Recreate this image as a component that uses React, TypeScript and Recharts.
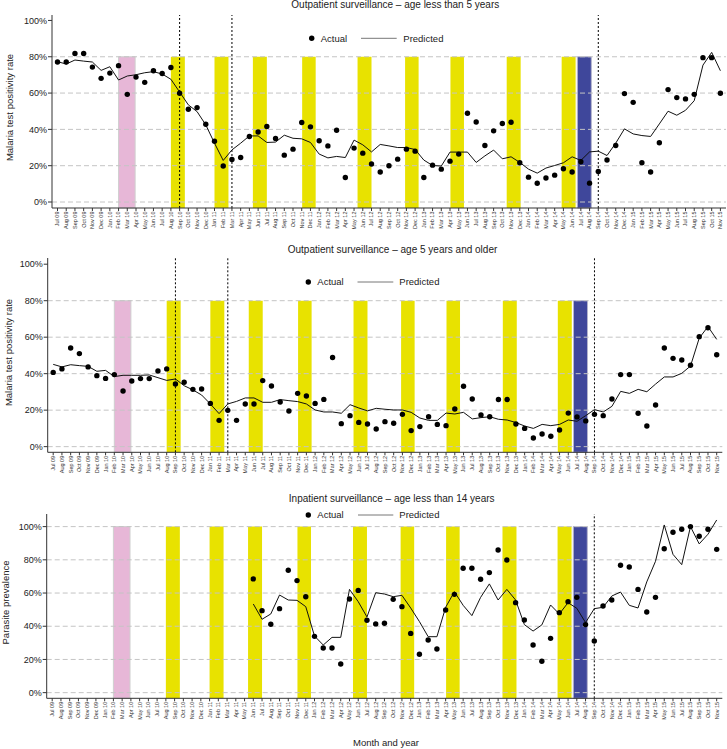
import React from 'react';
import { ComposedChart, Line, XAxis, YAxis, ReferenceArea, ReferenceLine } from 'recharts';

const months = [
  'Jul 09', 'Aug 09', 'Sep 09', 'Oct 09', 'Nov 09', 'Dec 09',
  'Jan 10', 'Feb 10', 'Mar 10', 'Apr 10', 'May 10', 'Jun 10', 'Jul 10', 'Aug 10', 'Sep 10', 'Oct 10', 'Nov 10', 'Dec 10',
  'Jan 11', 'Feb 11', 'Mar 11', 'Apr 11', 'May 11', 'Jun 11', 'Jul 11', 'Aug 11', 'Sep 11', 'Oct 11', 'Nov 11', 'Dec 11',
  'Jan 12', 'Feb 12', 'Mar 12', 'Apr 12', 'May 12', 'Jun 12', 'Jul 12', 'Aug 12', 'Sep 12', 'Oct 12', 'Nov 12', 'Dec 12',
  'Jan 13', 'Feb 13', 'Mar 13', 'Apr 13', 'May 13', 'Jun 13', 'Jul 13', 'Aug 13', 'Sep 13', 'Oct 13', 'Nov 13', 'Dec 13',
  'Jan 14', 'Feb 14', 'Mar 14', 'Apr 14', 'May 14', 'Jun 14', 'Jul 14', 'Aug 14', 'Sep 14', 'Oct 14', 'Nov 14', 'Dec 14',
  'Jan 15', 'Feb 15', 'Mar 15', 'Apr 15', 'May 15', 'Jun 15', 'Jul 15', 'Aug 15', 'Sep 15', 'Oct 15', 'Nov 15',
];

// outpatient < 5 years
const under5Actual = [
  77.1, 77.1, 81.8, 81.8, 74.3, 68.1, 71.0, 75.1, 59.3, 68.8, 65.9, 72.3, 70.8, 74.1, 59.9, 51.1, 52.0, 42.8,
  33.5, 19.8, 23.4, 24.5, 36.1, 38.6, 41.6, 35.0, 25.8, 29.1, 43.8, 41.4,
  33.7, 30.9, 39.5, 13.5, 29.7, 26.9, 20.9, 16.5, 20.0, 23.6, 29.1, 28.0,
  13.5, 20.3, 18.1, 22.5, 26.4, 48.9, 44.1, 31.1, 39.2, 43.2, 43.9, 21.6,
  13.7, 10.3, 13.2, 14.8, 18.3, 16.5, 22.2, 10.4, 16.8, 23.1, 31.1, 59.7,
  54.9, 21.6, 16.5, 32.6, 61.9, 57.5, 56.8, 59.3, 79.5, 79.5, 59.9,
];
const under5Predicted = [
  77.3, 76.0, 78.2, 77.6, 77.1, 72.5, 74.5, 67.2, 69.4, 70.1, 71.2, 71.8, 70.5, 67.6, 60.6, 53.5, 49.8, 42.5,
  32.4, 22.9, 28.7, 32.4, 36.4, 36.4, 32.8, 33.0, 36.8, 35.1, 34.8, 32.8,
  26.4, 24.3, 25.1, 24.5, 34.1, 31.5, 27.6, 31.7, 30.9, 30.0, 30.0, 28.9,
  23.1, 20.1, 19.8, 27.5, 27.5, 27.5, 21.8, 25.4, 28.6, 23.8, 24.9, 21.8,
  18.1, 15.9, 18.7, 20.1, 21.6, 24.9, 22.9, 27.6, 28.0, 25.6, 32.4, 40.3,
  37.5, 36.6, 36.1, 43.0, 50.0, 47.8, 50.5, 55.8, 75.4, 82.4, 72.3,
];

// outpatient >= 5 years
const over5Actual = [
  40.7, 42.6, 54.1, 51.0, 43.7, 38.9, 37.4, 39.5, 30.5, 36.0, 37.3, 37.3, 41.5, 42.6, 34.3, 35.3, 31.4, 31.6,
  23.7, 14.4, 19.9, 14.4, 23.4, 23.4, 36.2, 33.2, 24.5, 19.5, 29.2, 27.8,
  23.7, 25.9, 48.9, 12.6, 17.0, 13.3, 12.4, 9.7, 13.7, 12.8, 17.7, 8.8,
  11.0, 16.4, 12.2, 11.5, 20.6, 33.1, 26.1, 17.4, 16.4, 25.8, 25.8, 12.4,
  10.0, 4.7, 6.9, 5.7, 9.1, 18.4, 16.3, 14.1, 17.7, 17.0, 26.1, 39.5,
  39.5, 18.3, 11.3, 22.8, 54.1, 48.4, 47.5, 44.6, 60.3, 65.2, 50.4,
];
const over5Predicted = [
  45.1, 43.7, 44.9, 44.4, 44.0, 41.3, 41.8, 38.4, 39.1, 39.1, 39.1, 39.3, 37.8, 36.3, 37.1, 33.4, 31.1, 28.3,
  23.4, 18.1, 23.4, 24.8, 26.7, 26.7, 24.3, 24.3, 25.8, 25.2, 24.7, 23.4,
  20.1, 19.0, 19.0, 18.3, 23.0, 21.2, 19.6, 21.0, 20.5, 20.1, 20.1, 18.8,
  15.7, 14.4, 14.4, 18.4, 17.9, 18.8, 15.2, 15.9, 16.4, 15.0, 14.6, 13.2,
  11.3, 10.0, 12.2, 11.5, 12.2, 14.6, 13.9, 17.0, 20.3, 19.0, 22.1, 30.3,
  29.2, 31.4, 30.1, 34.3, 38.2, 38.2, 40.2, 44.2, 59.5, 65.8, 58.8,
];

// inpatient < 14 years (starts Jun 11)
const inpatientActual = [
  null, null, null, null, null, null, null, null, null, null, null, null, null, null, null, null, null, null,
  null, null, null, null, null, 68.5, 49.4, 41.2, 50.6, 73.7, 67.5, 57.8,
  33.9, 26.9, 26.9, 17.3, 56.4, 61.6, 43.6, 41.4, 41.8, 56.2, 51.8, 35.7,
  23.1, 31.7, 26.3, 49.8, 59.2, 74.9, 74.9, 68.3, 72.3, 85.9, 79.9, 54.2,
  43.8, 28.7, 18.9, 32.7, 48.2, 54.8, 57.4, 41.0, 31.1, 52.2, 55.8, 76.7,
  75.7, 62.2, 48.6, 57.4, 86.7, 96.6, 98.4, 100.0, 94.2, 98.4, 86.3,
];
const inpatientPredicted = [
  null, null, null, null, null, null, null, null, null, null, null, null, null, null, null, null, null, null,
  null, null, null, null, null, 53.4, 44.2, 47.4, 58.8, 55.8, 55.6, 51.8,
  34.1, 28.7, 33.3, 33.3, 62.2, 54.8, 45.6, 60.2, 59.4, 57.8, 58.6, 51.0,
  42.8, 33.7, 33.7, 51.4, 60.8, 52.6, 46.4, 57.4, 65.5, 55.8, 62.2, 55.8,
  41.0, 37.1, 40.8, 52.8, 47.4, 54.2, 50.8, 42.2, 50.6, 51.4, 58.2, 60.6,
  52.6, 51.0, 66.7, 79.1, 101.0, 83.3, 77.1, 100.0, 89.6, 95.4, 104.0,
];

// shaded periods, in month index units
const pinkBand = [7.0, 8.9];
const yellowBands = [
  [13.0, 14.6], [18.0, 19.6], [22.4, 24.0], [28.05, 29.6], [34.4, 36.0],
  [39.85, 41.4], [45.05, 46.6], [51.5, 53.1], [57.8, 59.4],
];
const blueBand = [59.6, 61.2];

const FONT = '"Liberation Sans", Arial, Helvetica, sans-serif';
const TEXT = '#222';
const monthTicks = months.map((_, i) => i);

const MonthTick = (props: any) => {
  const { x, y, payload } = props;
  return (
    <text
      x={x}
      y={y}
      transform={`rotate(-90 ${x} ${y})`}
      textAnchor="end"
      dy="0.35em"
      fontSize={5.5}
      fill="#333"
    >
      {months[payload.value]}
    </text>
  );
};

type PanelProps = {
  top: number;
  height: number;
  marginTop: number;
  marginRight: number;
  yWidth: number;
  xHeight: number;
  domain: [number, number];
  bandTop: number;
  grid: number[];
  cutoffs: number[];
  actual: (number | null)[];
  predicted: (number | null)[];
};

const Panel = (p: PanelProps) => {
  const data = months.map((m, i) => ({ i, month: m, actual: p.actual[i], predicted: p.predicted[i] }));
  const lo = p.domain[0];
  return (
    <div style={{ position: 'absolute', left: 0, top: p.top }}>
      <ComposedChart
        width={727}
        height={p.height}
        data={data}
        margin={{ top: p.marginTop, right: p.marginRight, left: 0, bottom: 0 }}
      >
        <XAxis
          type="number"
          dataKey="i"
          domain={[0, 76]}
          ticks={monthTicks}
          interval={0}
          padding={{ left: 5.5, right: 5.6 }}
          height={p.xHeight}
          tick={<MonthTick />}
          tickSize={3}
          tickMargin={0.5}
          stroke="#333"
        />
        <YAxis
          type="number"
          domain={p.domain}
          allowDataOverflow
          ticks={p.grid.concat(p.grid.includes(100) ? [] : [100])}
          tickFormatter={(v: number) => `${v}%`}
          width={p.yWidth}
          tickSize={4}
          tickMargin={1}
          stroke="#333"
          tick={{ fontSize: 9, fill: TEXT }}
        />
        <ReferenceArea
          x1={pinkBand[0]}
          x2={pinkBand[1]}
          y1={lo}
          y2={p.bandTop}
          fill="#E7B7D7"
          fillOpacity={1}
          stroke="#cfcfcf"
          strokeWidth={1}
        />
        {yellowBands.map(([a, b], k) => (
          <ReferenceArea key={k} x1={a} x2={b} y1={lo} y2={p.bandTop} fill="#E8E200" fillOpacity={1} stroke="none" />
        ))}
        <ReferenceArea
          x1={blueBand[0]}
          x2={blueBand[1]}
          y1={lo}
          y2={p.bandTop}
          fill="#3F479B"
          fillOpacity={1}
          stroke="#b4b4cc"
          strokeWidth={1}
        />
        {p.grid.map((v) => (
          <ReferenceLine key={'g' + v} y={v} stroke="#c4c4c4" strokeDasharray="5 3" />
        ))}
        {p.cutoffs.map((c) => (
          <ReferenceLine key={'c' + c} x={c} stroke="#000" strokeDasharray="2 2" />
        ))}
        <Line
          dataKey="predicted"
          stroke="#111"
          strokeWidth={1}
          dot={false}
          isAnimationActive={false}
        />
        <Line
          dataKey="actual"
          stroke="none"
          dot={{ r: 2.7, fill: '#000', stroke: 'none' }}
          isAnimationActive={false}
        />
      </ComposedChart>
    </div>
  );
};

const Legend = ({ x, y, lineFrom, lineTo, textX }: { x: number; y: number; lineFrom: number; lineTo: number; textX: number }) => (
  <g fontSize={9.5} fill={TEXT}>
    <circle cx={x} cy={y} r={2.7} fill="#000" />
    <text x={x + 9} y={y} dy="0.35em">Actual</text>
    <line x1={lineFrom} x2={lineTo} y1={y} y2={y} stroke="#777" strokeWidth={1} />
    <text x={textX} y={y} dy="0.35em">Predicted</text>
  </g>
);

export default function App() {
  return (
    <div style={{ position: 'absolute', left: 0, top: 0, width: 727, height: 749, background: '#fff', fontFamily: FONT }}>
      <Panel
        top={0}
        height={240}
        marginTop={15}
        marginRight={1}
        yWidth={52}
        xHeight={32}
        domain={[-3.3, 103]}
        bandTop={80}
        grid={[0, 20, 40, 60, 80]}
        cutoffs={[14, 20, 62]}
        actual={under5Actual}
        predicted={under5Predicted}
      />
      <Panel
        top={240}
        height={250}
        marginTop={18}
        marginRight={4.7}
        yWidth={47.7}
        xHeight={37.7}
        domain={[-3.1, 103.4]}
        bandTop={80}
        grid={[0, 20, 40, 60, 80]}
        cutoffs={[14, 20, 62]}
        actual={over5Actual}
        predicted={over5Predicted}
      />
      <Panel
        top={490}
        height={259}
        marginTop={24}
        marginRight={4.7}
        yWidth={46.7}
        xHeight={50.7}
        domain={[-3.4, 107.6]}
        bandTop={100}
        grid={[0, 20, 40, 60, 80, 100]}
        cutoffs={[62]}
        actual={inpatientActual}
        predicted={inpatientPredicted}
      />
      <svg width={727} height={749} style={{ position: 'absolute', left: 0, top: 0, pointerEvents: 'none' }}>
        <g fontSize={10} fill={TEXT} textAnchor="middle">
          <text x={395.3} y={4.7} dy="0.35em">Outpatient surveillance – age less than 5 years</text>
          <text x={392.5} y={249.3} dy="0.35em">Outpatient surveillance – age 5 years and older</text>
          <text x={391.7} y={498.3} dy="0.35em">Inpatient surveillance – age less than 14 years</text>
        </g>
        <g fontSize={9.5} fill={TEXT} textAnchor="middle">
          <text transform="translate(10,107.5) rotate(-90)" dy="0.35em">Malaria test positivity rate</text>
          <text transform="translate(8.3,352.5) rotate(-90)" dy="0.35em">Malaria test positivity rate</text>
          <text transform="translate(6,602.5) rotate(-90)" dy="0.35em">Parasite prevalence</text>
          <text x={386} y={743} dy="0.35em">Month and year</text>
        </g>
        <Legend x={311.7} y={38.3} lineFrom={361} lineTo={396.7} textX={403.3} />
        <Legend x={308.3} y={282} lineFrom={357.5} lineTo={393.3} textX={399.3} />
        <Legend x={308.3} y={515} lineFrom={358} lineTo={393.3} textX={399.3} />
      </svg>
    </div>
  );
}
